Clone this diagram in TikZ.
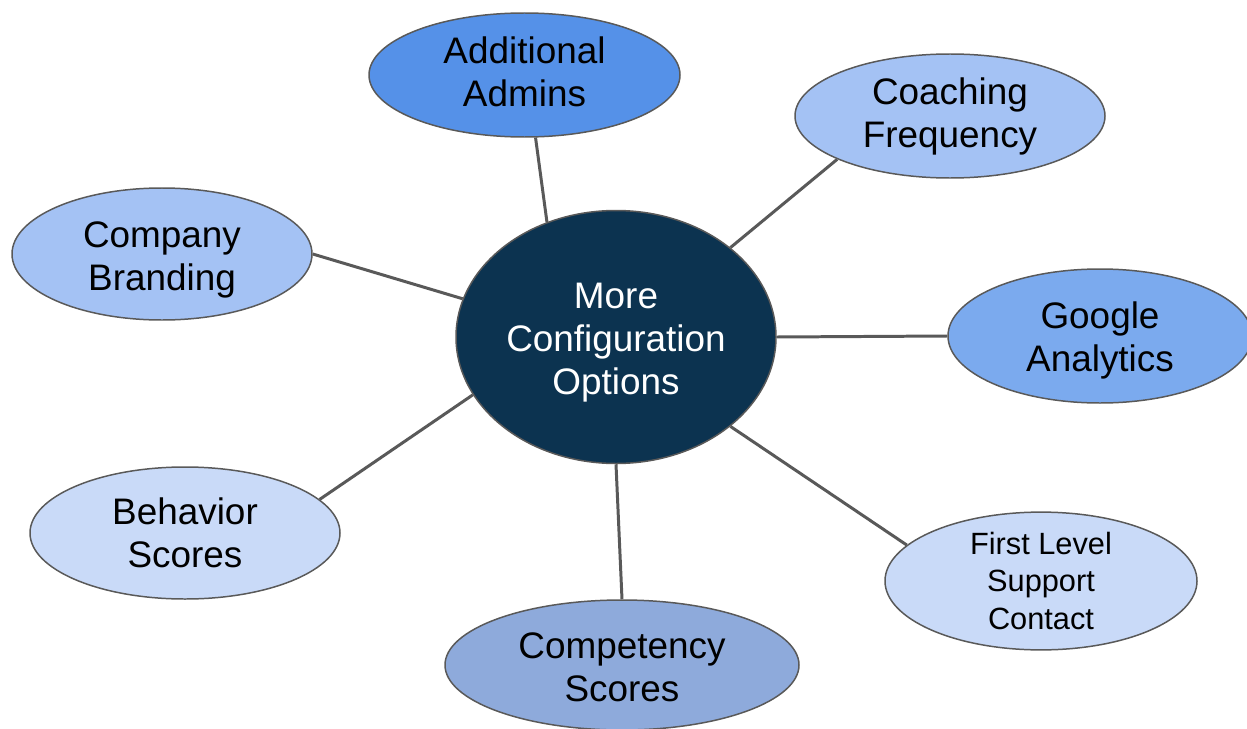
\documentclass[tikz,border=0pt]{standalone}
\usepackage{fontspec}
\setmainfont{Liberation Sans}
\usetikzlibrary{shapes.geometric}
\definecolor{hubblue}{HTML}{0C3350}
\definecolor{adminblue}{HTML}{5591E8}
\definecolor{googleblue}{HTML}{7BAAEE}
\definecolor{paleblue}{HTML}{A4C2F4}
\definecolor{lightblue}{HTML}{C9DAF8}
\definecolor{greyblue}{HTML}{8EAADB}
\definecolor{linegray}{HTML}{595959}
\newcommand{\topgap}[1]{\rule{0pt}{#1}}
\tikzset{
    bubble/.style={ellipse, draw=linegray, line width=0.85pt, inner sep=0pt,
        align=center, font=\fontsize{21}{24.5}\selectfont},
    lifttext/.style={execute at end node={\rule[-#1]{0pt}{#1}}},
    link/.style={draw=linegray, line width=1.7pt}
}

\begin{document}
\begin{tikzpicture}
    \useasboundingbox (0,0) rectangle (24.94,-14.58);
    \begin{scope}
        \node[bubble, fill=hubblue, text=white, minimum width=6.4cm, minimum height=5.06cm] (hub) at (12.32,-6.74) {\topgap{20.8pt}More\\Configuration\\Options};

        \node[bubble, fill=adminblue, minimum width=6.22cm, minimum height=2.48cm, lifttext=3.4pt] (admins) at (10.49,-1.5) {Additional\\Admins};
        \node[bubble, fill=paleblue, minimum width=6.2cm, minimum height=2.48cm] (coaching) at (19,-2.32) {Coaching\\Frequency};
        \node[bubble, fill=paleblue, minimum width=6cm, minimum height=2.64cm] (branding) at (3.24,-5.08) {\topgap{21pt}Company\\Branding};
        \node[bubble, fill=googleblue, minimum width=6.08cm, minimum height=2.68cm] (google) at (22,-6.72) {\topgap{19.9pt}Google\\Analytics};
        \node[bubble, fill=lightblue, minimum width=6.2cm, minimum height=2.64cm] (behavior) at (3.7,-10.66) {Behavior\\Scores};
        \node[bubble, fill=greyblue, minimum width=7.08cm, minimum height=2.6cm] (competency) at (12.44,-13.3) {\topgap{17.6pt}Competency\\Scores};
        \node[bubble, fill=lightblue, minimum width=6.24cm, minimum height=2.64cm, font=\fontsize{17.5}{21.3}\selectfont] (support) at (20.82,-11.62) {First Level\\Support\\Contact};

        \draw[link] (hub.121.3) -- (admins.280.3);
        \draw[link] (hub.38.9) -- (coaching.201.8);
        \draw[link] (hub.166) -- (branding.0);
        \draw[link] (hub.0) -- (google.180);
        \draw[link] (hub.202.1) -- (behavior.14.2);
        \draw[link] (hub.270) -- (competency.90);
        \draw[link] (hub.-38.3) -- (support.165);
    \end{scope}
\end{tikzpicture}
\end{document}
